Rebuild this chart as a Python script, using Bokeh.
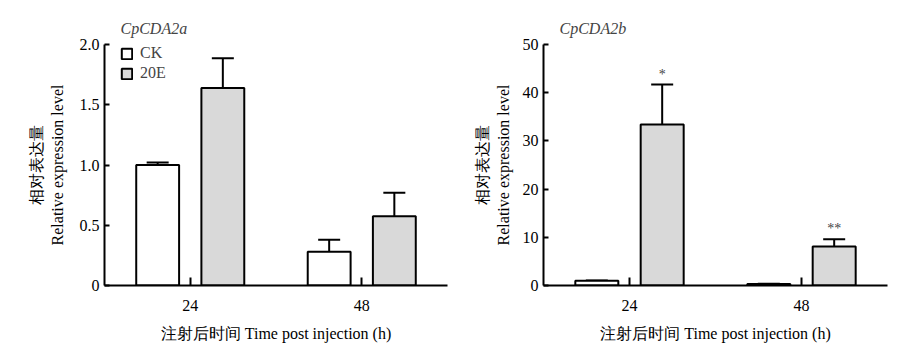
from bokeh.plotting import figure
from bokeh.models import (ColumnDataSource, FactorRange, Range1d, Legend, LegendItem,
                          FixedTicker, Whisker, TeeHead)
from bokeh.core.properties import value
from bokeh.transform import dodge
from bokeh.layouts import row
from bokeh.embed import file_html
from bokeh.resources import INLINE

# ---- data ----
times = ["24", "48"]
a_ck = [1.00, 0.28]
a_ck_err = [0.02, 0.10]
a_e = [1.64, 0.575]
a_e_err = [0.245, 0.195]
b_ck = [1.0, 0.3]
b_ck_err = [0.05, 0.05]
b_e = [33.4, 8.1]
b_e_err = [8.3, 1.5]
b_sig = ["*", "**"]
a_ticks = [0, 0.5, 1.0, 1.5, 2.0]
a_tick_labels = ["0", "0.5", "1.0", "1.5", "2.0"]
b_ticks = [0, 10, 20, 30, 40, 50]
b_tick_labels = ["0", "10", "20", "30", "40", "50"]

FONT = "Liberation Serif"
GRAY = "#d9d9d9"
OFF = 0.19
BW = 0.25


def panel(width, left, right, ymax, ticks, tick_labels, ck, ck_err, e, e_err, title,
          ylab_standoff, sig=None, legend=False):
    p = figure(width=width, height=352, x_range=FactorRange(*times, range_padding=0),
               y_range=Range1d(0, ymax), output_backend="svg", toolbar_location=None,
               min_border_left=left, min_border_right=right, min_border_top=44,
               min_border_bottom=67, title=title)
    p.outline_line_color = None
    p.grid.visible = False
    p.title.text_font = FONT
    p.title.text_font_style = "italic"
    p.title.text_font_size = "16px"
    p.title.align = "left"
    p.title.offset = 16
    p.title.standoff = 16
    src = ColumnDataSource(dict(t=times, ck=ck, ck_top=[v + s for v, s in zip(ck, ck_err)],
                                e=e, e_top=[v + s for v, s in zip(e, e_err)],
                                sig=sig if sig is not None else ["", ""]))
    r1 = p.vbar(x=dodge("t", -OFF, range=p.x_range), top="ck", width=BW, source=src,
                fill_color="white", line_color="black", line_width=2)
    r2 = p.vbar(x=dodge("t", OFF, range=p.x_range), top="e", width=BW, source=src,
                fill_color=GRAY, line_color="black", line_width=2)
    for off, lo, hi in ((-OFF, "ck", "ck_top"), (OFF, "e", "e_top")):
        w = Whisker(base=dodge("t", off, range=p.x_range), lower=lo, upper=hi, source=src,
                    line_color="black", line_width=2, lower_head=None,
                    upper_head=TeeHead(size=22, line_color="black", line_width=2),
                    level="underlay")
        p.add_layout(w)
    # axes
    for ax in (p.xaxis, p.yaxis):
        ax.axis_line_width = 2
        ax.major_tick_line_width = 2
        ax.major_tick_out = 0
        ax.minor_tick_line_color = None
        ax.major_label_text_font = FONT
        ax.major_label_text_font_size = "16px"
        ax.major_label_text_color = "black"
        ax.axis_label_text_font = FONT
        ax.axis_label_text_font_style = "normal"
        ax.axis_label_text_font_size = "16px"
        ax.axis_label_text_color = "black"
    p.yaxis.major_tick_in = 5
    p.xaxis.major_tick_in = 8
    p.yaxis.ticker = FixedTicker(ticks=ticks)
    p.yaxis.major_label_overrides = {t: l for t, l in zip(ticks, tick_labels)}
    p.yaxis.major_label_standoff = 5
    p.yaxis.axis_label = "相对表达量\nRelative expression level"
    p.yaxis.axis_label_standoff = ylab_standoff
    p.xaxis.major_label_standoff = 14
    p.xaxis.axis_label = "注射后时间 Time post injection (h)"
    p.xaxis.axis_label_standoff = 11
    if sig is not None:
        p.text(x=dodge("t", OFF, range=p.x_range), y="e_top", text="sig", source=src,
               y_offset=-3, text_align="center", text_baseline="bottom",
               text_font=value(FONT), text_font_size="14px", text_color="#444444")
    if legend:
        lg = Legend(items=[LegendItem(label="CK", renderers=[r1]),
                           LegendItem(label="20E", renderers=[r2])],
                    location=(16, 241 - 4 - 35), orientation="vertical",
                    glyph_width=13, glyph_height=13, label_height=20, spacing=0,
                    padding=0, margin=0, border_line_color=None, background_fill_alpha=0,
                    label_text_font=FONT, label_text_font_size="16px", label_standoff=7)
        p.add_layout(lg)
    return p


pa = panel(450, 104, 3, 2.0, a_ticks, a_tick_labels, a_ck, a_ck_err, a_e, a_e_err,
           "CpCDA2a", 11, legend=True)
pb = panel(449, 93, 12, 50, b_ticks, b_tick_labels, b_ck, b_ck_err, b_e, b_e_err,
           "CpCDA2b", 8, sig=b_sig)

layout = row(pa, pb)
open("out.html", "w").write(file_html(layout, INLINE))
